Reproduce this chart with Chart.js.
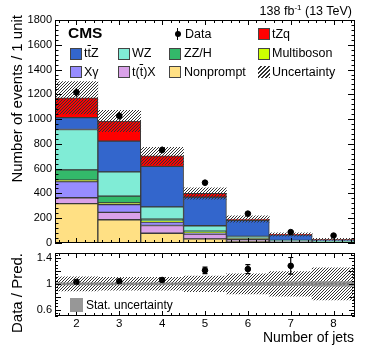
<!DOCTYPE html>
<html><head><meta charset="utf-8">
<script src="https://cdn.jsdelivr.net/npm/chart.js@4.4.0/dist/chart.umd.min.js"></script>
<style>
html,body{margin:0;padding:0;overflow:hidden;background:#fff;width:374px;height:359px}
body{position:relative;font-family:"Liberation Sans",Arial,Helvetica,sans-serif;color:#000}
canvas{position:absolute;left:0}
.t{position:absolute;white-space:nowrap;line-height:1}
.box{position:absolute;width:10px;height:10px;border:1px solid #444}
.ol{text-decoration:overline}
.rot{position:absolute;left:0;top:0;width:200px;text-align:right;white-space:nowrap;transform-origin:0 0;line-height:16px;font-size:15px}
</style></head><body>
<canvas id="main" width="374" height="248" style="top:0"></canvas>
<canvas id="ratio" width="374" height="111" style="top:248px"></canvas>
<div id="overlay"></div>
<script>
// ---------- data ----------
const categories = ['2','3','4','5','6','7','8'];
const nonprompt  = [318, 188, 79, 33, 14, 5, 3];
const ttX        = [47, 59, 62, 38, 16, 5, 3];
const xGamma     = [130, 63, 28, 11, 5, 2, 1];
const multiboson = [13, 14, 8, 4, 2, 1, 1];
const zzH        = [82, 54, 16, 9, 4, 2, 1];
const wz         = [326, 196, 98, 44, 13, 6, 3];
const ttZ        = [96, 248, 327, 231, 128, 44, 16];
const tZq        = [160, 163, 86, 30, 12, 4, 2];
const totalUnc   = [131, 86, 69, 46, 25, 14, 8];
const dataVals   = [1216, 1026, 751, 487, 237, 88, 60];
const dataErr    = [35, 32, 27, 22, 15, 9, 8];
const ratioVals  = [1.03, 1.04, 1.06, 1.21, 1.23, 1.28, null];
const ratioErr   = [0.03, 0.03, 0.03, 0.05, 0.07, 0.13, null];
const ratioSyst  = [0.11, 0.10, 0.10, 0.12, 0.155, 0.19, 0.25];
const ratioStat  = [0.015, 0.015, 0.015, 0.02, 0.025, 0.03, 0.035];
const yTicksMain  = [0, 200, 400, 600, 800, 1000, 1200, 1400, 1600, 1800];
const yTicksRatio = [0.6, 0.8, 1, 1.2, 1.4];

Chart.defaults.font.family = '"Liberation Sans", Arial, Helvetica, sans-serif';
Chart.defaults.color = '#000';
Chart.defaults.animation = false;

function hatch(color, size) {
  const c = document.createElement('canvas'); c.width = c.height = size;
  const g = c.getContext('2d'); g.strokeStyle = color; g.lineWidth = 1;
  g.beginPath();
  g.moveTo(0, size); g.lineTo(size, 0);
  g.moveTo(-1, 1); g.lineTo(1, -1);
  g.moveTo(size - 1, size + 1); g.lineTo(size + 1, size - 1);
  g.stroke();
  return g.createPattern(c, 'repeat');
}

const frameTicks = {
  id: 'frameTicks',
  afterDraw(chart, args, o) {
    const {ctx, chartArea: a, scales: {x, y}} = chart;
    ctx.save(); ctx.strokeStyle = '#000'; ctx.lineWidth = 1;
    ctx.beginPath();
    const n = Math.round((y.max - y.min) / o.yMinor);
    for (let k = 0; k <= n; k++) {
      const v = y.min + k * o.yMinor;
      const r = v / o.yMajor; const major = Math.abs(r - Math.round(r)) < 1e-6;
      const len = major ? o.yMajLen : o.yMinLen;
      const py = Math.round(y.getPixelForValue(v)) + 0.5;
      if (py < a.top || py > a.bottom + 1) continue;
      ctx.moveTo(a.left, py); ctx.lineTo(a.left + len, py);
      ctx.moveTo(a.right, py); ctx.lineTo(a.right - len, py);
    }
    for (let k = -2; k <= 32; k++) {
      const v = k / 5; const major = k % 5 === 0;
      const len = major ? o.xMajLen : o.xMinLen;
      const px = Math.round(x.getPixelForValue(v)) + 0.5;
      ctx.moveTo(px, a.bottom); ctx.lineTo(px, a.bottom - len);
      ctx.moveTo(px, a.top); ctx.lineTo(px, a.top + len);
    }
    ctx.stroke();
    ctx.strokeRect(Math.round(a.left) + 0.5, Math.round(a.top) + 0.5,
                   Math.round(a.right - a.left) - 1, Math.round(a.bottom - a.top) - 1);
    ctx.restore();
  }
};

const errorBars = {
  id: 'errorBars',
  afterDatasetsDraw(chart, args, o) {
    const {ctx, scales: {y}, chartArea: a} = chart;
    const meta = chart.getDatasetMeta(o.index);
    ctx.save(); ctx.strokeStyle = '#000'; ctx.lineWidth = 1.2;
    ctx.beginPath();
    o.values.forEach((v, i) => {
      if (v === null || o.errors[i] === null) return;
      const px = meta.data[i].x;
      const y1 = Math.min(a.bottom, y.getPixelForValue(v - o.errors[i]));
      const y2 = Math.max(a.top, y.getPixelForValue(v + o.errors[i]));
      ctx.moveTo(px, y1); ctx.lineTo(px, y2);
      if (o.cap) {
        ctx.moveTo(px - o.cap, y1); ctx.lineTo(px + o.cap, y1);
        ctx.moveTo(px - o.cap, y2); ctx.lineTo(px + o.cap, y2);
      }
    });
    ctx.stroke(); ctx.restore();
  }
};

const refLine = {
  id: 'refLine',
  afterDatasetsDraw(chart) {
    const {ctx, chartArea: a, scales: {y}} = chart;
    const py = y.getPixelForValue(1);
    ctx.save(); ctx.strokeStyle = '#7a7a7a'; ctx.lineWidth = 2; ctx.setLineDash([2, 2]);
    ctx.beginPath(); ctx.moveTo(a.left, py); ctx.lineTo(a.right, py); ctx.stroke();
    ctx.restore();
  }
};

function fixY(s) { s.width = 55; s.paddingTop = 0; s.paddingBottom = 0; }
function fixX(h) { return s => { s.height = h; s.paddingLeft = 0; s.paddingRight = 0; }; }

// ---------- main panel ----------
const components = [
  ['Nonprompt', nonprompt, '#ffe084'],
  ['t(t̄)X', ttX, '#d9a1e8'],
  ['Xγ', xGamma, '#978cff'],
  ['Multiboson', multiboson, '#ccff00'],
  ['ZZ/H', zzH, '#33b96a'],
  ['WZ', wz, '#80ecd6'],
  ['tt̄Z', ttZ, '#3366cc'],
  ['tZq', tZq, '#ff0000']
];
let base = categories.map(() => 0);
const mainSets = components.map(([label, arr, color]) => {
  const d = arr.map((v, i) => [base[i], base[i] + v]);
  base = base.map((b, i) => b + arr[i]);
  return {type: 'bar', label, data: d, backgroundColor: color, borderColor: '#3a3a3a',
          borderWidth: 1, borderSkipped: false, barPercentage: 1, categoryPercentage: 1, order: 3};
});
const total = base;
mainSets.push({type: 'bar', label: 'Uncertainty',
  data: total.map((t, i) => [t - totalUnc[i], t + totalUnc[i]]),
  backgroundColor: hatch('#333', 3), borderWidth: 0, barPercentage: 1, categoryPercentage: 1, order: 1});
mainSets.push({type: 'line', label: 'Data', data: dataVals, showLine: false,
  pointRadius: 2.8, pointBackgroundColor: '#000', pointBorderColor: '#000', order: 0});

new Chart(document.getElementById('main'), {
  type: 'bar',
  data: {labels: categories, datasets: mainSets},
  options: {
    responsive: false, animation: false,
    layout: {padding: {left: 0, right: 19, top: 20, bottom: 0}},
    scales: {
      x: {stacked: true, offset: true, grid: {display: false, drawTicks: false}, border: {display: false},
          ticks: {display: false}, afterFit: fixX(5)},
      y: {stacked: false, min: 0, max: 1800, grid: {display: false, drawTicks: false}, border: {display: false},
          afterBuildTicks: s => { s.ticks = yTicksMain.map(v => ({value: v})); },
          ticks: {font: {size: 11}, padding: 3, callback: v => String(v)},
          afterFit: fixY}
    },
    plugins: {
      legend: {display: false}, tooltip: {enabled: false},
      frameTicks: {yMinor: 40, yMajor: 200, yMajLen: 7, yMinLen: 3.5, xMajLen: 5, xMinLen: 3},
      errorBars: {index: mainSets.length - 1, values: dataVals, errors: dataErr, cap: 0}
    }
  },
  plugins: [frameTicks, errorBars]
});

// ---------- ratio panel ----------
const ratioSets = [
  {type: 'line', label: 'Data / Pred.', data: ratioVals, showLine: false,
   pointRadius: 2.8, pointBackgroundColor: '#000', pointBorderColor: '#000', order: 0},
  {type: 'bar', label: 'Stat. uncertainty', data: ratioStat.map(s => [1 - s, 1 + s]),
   backgroundColor: 'rgba(140,140,140,0.85)', borderWidth: 0, barPercentage: 1, categoryPercentage: 1, order: 1},
  {type: 'bar', label: 'Uncertainty', data: ratioSyst.map(s => [1 - s, 1 + s]),
   backgroundColor: hatch('#333', 3), borderWidth: 0, barPercentage: 1, categoryPercentage: 1, order: 2}
];
new Chart(document.getElementById('ratio'), {
  type: 'bar',
  data: {labels: categories, datasets: ratioSets},
  options: {
    responsive: false, animation: false,
    layout: {padding: {left: 0, right: 19, top: 5, bottom: 0}},
    scales: {
      x: {stacked: true, offset: true, grid: {display: false, drawTicks: false}, border: {display: false},
          ticks: {font: {size: 11.5}, padding: 1, maxRotation: 0}, afterFit: fixX(43)},
      y: {stacked: false, min: 0.5, max: 1.48, grid: {display: false, drawTicks: false}, border: {display: false},
          afterBuildTicks: s => { s.ticks = yTicksRatio.map(v => ({value: v})); },
          ticks: {font: {size: 11}, padding: 3, callback: v => (v === 1 ? '1' : v.toFixed(1))},
          afterFit: fixY}
    },
    plugins: {
      legend: {display: false}, tooltip: {enabled: false},
      frameTicks: {yMinor: 0.05, yMajor: 0.2, yMajLen: 6, yMinLen: 3, xMajLen: 5, xMinLen: 3},
      errorBars: {index: 0, values: ratioVals, errors: ratioErr, cap: 2.5}
    }
  },
  plugins: [refLine, frameTicks, errorBars]
});

// ---------- text & legend ----------
const ov = document.getElementById('overlay');
function add(html, style, cls) {
  const d = document.createElement('div'); d.className = cls || 't'; d.innerHTML = html;
  Object.assign(d.style, style); ov.appendChild(d); return d;
}
add('138 fb<sup style="font-size:8px;vertical-align:5px">-1</sup> (13 TeV)', {right: '22px', top: '4px', fontSize: '12.5px'});
add('Number of events / 1 unit', {transform: 'translate(9px,215px) rotate(-90deg)'}, 'rot');
add('Data / Pred.', {transform: 'translate(9px,453px) rotate(-90deg)'}, 'rot');
add('Number of jets', {right: '20px', top: '330px', fontSize: '14px'});
add('CMS', {left: '68px', top: '25px', fontSize: '15.5px', fontWeight: 'bold'});

const fs = 12.5;
const legendRows = [34, 53.5, 72];
const legendItems = [
  {col: 3, row: 0, label: 'tZq', color: '#ff0000'},
  {col: 0, row: 1, label: 't<span class="ol">t</span>Z', color: '#3366cc'},
  {col: 1, row: 1, label: 'WZ', color: '#80ecd6'},
  {col: 2, row: 1, label: 'ZZ/H', color: '#33b96a'},
  {col: 3, row: 1, label: 'Multiboson', color: '#ccff00'},
  {col: 0, row: 2, label: 'Xγ', color: '#978cff'},
  {col: 1, row: 2, label: 't(<span class="ol">t</span>)X', color: '#d9a1e8'},
  {col: 2, row: 2, label: 'Nonprompt', color: '#ffe084'},
  {col: 3, row: 2, label: 'Uncertainty', color: 'hatch'}
];
const boxX = [70, 118, 169, 258];
const textX = [84, 132, 184, 272];
legendItems.forEach(it => {
  const c = legendRows[it.row];
  const b = document.createElement('div'); b.className = 'box';
  b.style.left = boxX[it.col] + 'px'; b.style.top = (c - 6) + 'px';
  if (it.color === 'hatch') {
    b.style.border = 'none'; b.style.width = '12px'; b.style.height = '12px';
    b.style.background = 'repeating-linear-gradient(-45deg,#333 0 1px,#fff 1px 2.8px)';
  } else b.style.background = it.color;
  ov.appendChild(b);
  add(it.label, {left: textX[it.col] + 'px', top: (c - fs / 2) + 'px', fontSize: fs + 'px'});
});
const dm = document.createElement('div');
Object.assign(dm.style, {position: 'absolute', left: '174.5px', top: '31px', width: '6px', height: '6px', borderRadius: '50%', background: '#000'});
ov.appendChild(dm);
const dl = document.createElement('div');
Object.assign(dl.style, {position: 'absolute', left: '177px', top: '28px', width: '1px', height: '12px', background: '#000'});
ov.appendChild(dl);
add('Data', {left: '185px', top: (34 - fs / 2) + 'px', fontSize: fs + 'px'});
const sb = document.createElement('div');
Object.assign(sb.style, {position: 'absolute', left: '70px', top: '298px', width: '13px', height: '14px', background: 'rgba(140,140,140,0.9)'});
ov.appendChild(sb);
add('Stat. uncertainty', {left: '86px', top: '299px', fontSize: '12px'});
</script>
</body></html>
